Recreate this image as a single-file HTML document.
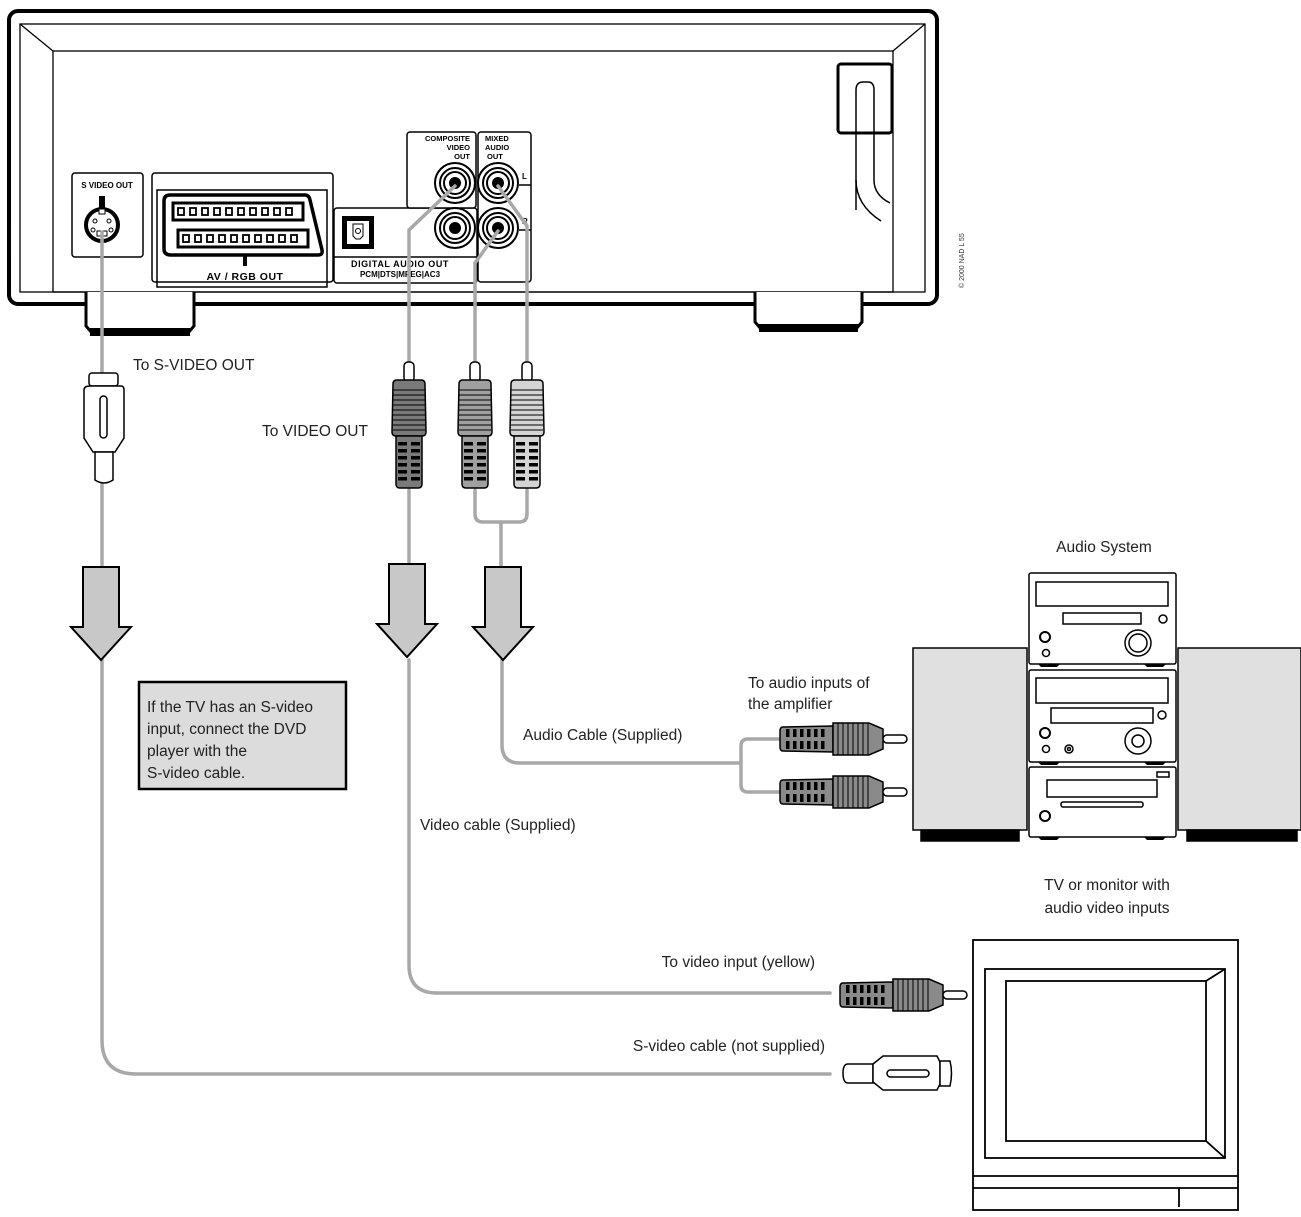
<!DOCTYPE html>
<html><head><meta charset="utf-8"><style>
html,body{margin:0;padding:0;background:#fff}
svg{display:block}
.t{font-family:"Liberation Sans",sans-serif;font-size:15.5px;fill:#222}
.b{font-family:"Liberation Sans",sans-serif;font-weight:bold;fill:#000}
</style></head><body>
<svg width="1301" height="1217" viewBox="0 0 1301 1217" xmlns="http://www.w3.org/2000/svg">
<defs>
<g id="vplug">
 <rect x="-5" y="0" width="10" height="20" rx="4" fill="#fff" stroke="#000" stroke-width="1.5"/>
 <path d="M-16,22 Q-16,18 -12,18 L12,18 Q16,18 16,22 L17,70 Q17,74 13,74 L-13,74 Q-17,74 -17,70 Z" stroke="#000" stroke-width="1.5"/>
 <g stroke="#000" stroke-width="1">
  <line x1="-16" y1="28" x2="16" y2="28"/><line x1="-16" y1="33" x2="16" y2="33"/><line x1="-16" y1="38" x2="16" y2="38"/>
  <line x1="-16" y1="43" x2="16" y2="43"/><line x1="-16" y1="48" x2="16" y2="48"/><line x1="-16" y1="53" x2="16" y2="53"/>
  <line x1="-16" y1="58" x2="16" y2="58"/><line x1="-16" y1="63" x2="16" y2="63"/><line x1="-16" y1="68" x2="16" y2="68"/>
 </g>
 <path d="M-13,74 L13,74 L13,122 Q13,126 9,126 L-9,126 Q-13,126 -13,122 Z" stroke="#000" stroke-width="1.5"/>
 <g fill="#000">
  <rect x="-11" y="80" width="9" height="3.5"/><rect x="2" y="80" width="9" height="3.5"/>
  <rect x="-11" y="87" width="9" height="3.5"/><rect x="2" y="87" width="9" height="3.5"/>
  <rect x="-11" y="94" width="9" height="3.5"/><rect x="2" y="94" width="9" height="3.5"/>
  <rect x="-11" y="101" width="9" height="3.5"/><rect x="2" y="101" width="9" height="3.5"/>
  <rect x="-11" y="108" width="9" height="3.5"/><rect x="2" y="108" width="9" height="3.5"/>
  <rect x="-11" y="115" width="9" height="3.5"/><rect x="2" y="115" width="9" height="3.5"/>
 </g>
</g>
<g id="hplug">
 <path d="M0,-12 L50,-13 L50,13 L0,12 Q-3,12 -3,8 L-3,-8 Q-3,-12 0,-12 Z" fill="#8a8a8a" stroke="#000" stroke-width="1.5"/>
 <g fill="#000">
  <rect x="3" y="-10" width="3.5" height="8"/><rect x="10" y="-10" width="3.5" height="8"/><rect x="17" y="-10" width="3.5" height="8"/><rect x="24" y="-10" width="3.5" height="8"/><rect x="31" y="-10" width="3.5" height="8"/><rect x="38" y="-10" width="3.5" height="8"/>
  <rect x="3" y="2" width="3.5" height="8"/><rect x="10" y="2" width="3.5" height="8"/><rect x="17" y="2" width="3.5" height="8"/><rect x="24" y="2" width="3.5" height="8"/><rect x="31" y="2" width="3.5" height="8"/><rect x="38" y="2" width="3.5" height="8"/>
 </g>
 <path d="M50,-16 L86,-16 L100,-10 L100,10 L86,16 L50,16 Z" fill="#8a8a8a" stroke="#000" stroke-width="1.5"/>
 <g stroke="#000" stroke-width="1">
  <line x1="55" y1="-16" x2="55" y2="16"/><line x1="60" y1="-16" x2="60" y2="16"/><line x1="65" y1="-16" x2="65" y2="16"/><line x1="70" y1="-16" x2="70" y2="16"/><line x1="75" y1="-16" x2="75" y2="16"/><line x1="80" y1="-16" x2="80" y2="16"/><line x1="85" y1="-16" x2="85" y2="16"/>
 </g>
 <rect x="100" y="-4" width="24" height="8" rx="4" fill="#fff" stroke="#000" stroke-width="1.5"/>
</g>
<g id="arrow">
 <path d="M-18,0 L18,0 L18,60 L30,60 L0,93 L-30,60 L-18,60 Z" fill="#c8c8c8" stroke="#000" stroke-width="2"/>
</g>
<g id="jack">
 <circle r="20" fill="#fff" stroke="#000" stroke-width="2"/>
 <circle r="15" fill="#fff" stroke="#000" stroke-width="2"/>
 <circle r="11" fill="#fff" stroke="#000" stroke-width="2"/>
 <circle r="6" fill="#000"/>
</g>
</defs>

<!-- DVD player -->
<rect x="9" y="11" width="928" height="293" rx="9" fill="#fff" stroke="#000" stroke-width="4"/>
<rect x="20" y="24" width="905" height="268" fill="none" stroke="#000" stroke-width="1.3"/>
<rect x="53" y="51" width="840" height="241" fill="none" stroke="#000" stroke-width="1.3"/>
<line x1="20" y1="24" x2="53" y2="51" stroke="#000" stroke-width="1.3"/>
<line x1="925" y1="24" x2="893" y2="51" stroke="#000" stroke-width="1.3"/>
<!-- feet -->
<path d="M86,292 L86,326 L92,333 L188,333 L194,326 L194,292" fill="#fff" stroke="#000" stroke-width="3"/>
<rect x="90" y="328" width="100" height="8" fill="#000"/>
<path d="M755,292 L755,322 L761,329 L856,329 L862,322 L862,292" fill="#fff" stroke="#000" stroke-width="3"/>
<rect x="759" y="324" width="99" height="8" fill="#000"/>
<!-- power -->
<rect x="838" y="64" width="54" height="69" rx="3" fill="#fff" stroke="#000" stroke-width="3"/>
<path d="M856,210 L856,90 Q856,82 863,82 L868,82 Q874,82 874,90 L874,180 Q874,195 890,203" fill="none" stroke="#000" stroke-width="1.5"/>
<path d="M856,180 Q856,205 881,221" fill="none" stroke="#000" stroke-width="1.5"/>
<text class="b" x="0" y="0" transform="translate(964,288) rotate(-90)" style="font-weight:normal;font-size:7px;fill:#333">© 2000 NAD L 55</text>

<!-- S video -->
<rect x="72" y="173" width="71" height="84" rx="3" fill="#fff" stroke="#000" stroke-width="1.5"/>
<text class="b" x="107" y="188" font-size="8" text-anchor="middle">S VIDEO OUT</text>
<rect x="99" y="196" width="6" height="12" fill="#000"/>
<circle cx="102" cy="225" r="16" fill="#fff" stroke="#000" stroke-width="4"/>
<rect x="99" y="209" width="6" height="5" fill="#fff" stroke="#000" stroke-width="1"/>
<circle cx="95" cy="221" r="2" fill="none" stroke="#000"/><circle cx="109" cy="221" r="2" fill="none" stroke="#000"/>
<circle cx="93" cy="230" r="2" fill="none" stroke="#000"/><circle cx="111" cy="230" r="2" fill="none" stroke="#000"/>
<rect x="97" y="231" width="10" height="5" fill="none" stroke="#000"/>

<!-- scart -->
<rect x="152" y="173" width="181" height="109" rx="3" fill="#fff" stroke="#000" stroke-width="1.5"/>
<rect x="157" y="190" width="170" height="97" fill="none" stroke="#000" stroke-width="1.5"/>
<path d="M170,195 L305,195 Q309,195 310,200 L322,250 Q323,255 318,255 L171,255 Q164,255 164,249 L164,201 Q164,195 170,195 Z" fill="#fff" stroke="#000" stroke-width="3.5"/>
<rect x="173" y="203" width="130" height="17" fill="#fff" stroke="#000" stroke-width="3"/>
<rect x="178" y="230" width="130" height="17" fill="#fff" stroke="#000" stroke-width="3"/>
<g fill="none" stroke="#000" stroke-width="1.8">
<rect x="178" y="208" width="6" height="7"/><rect x="190" y="208" width="6" height="7"/><rect x="202" y="208" width="6" height="7"/><rect x="214" y="208" width="6" height="7"/><rect x="226" y="208" width="6" height="7"/><rect x="238" y="208" width="6" height="7"/><rect x="250" y="208" width="6" height="7"/><rect x="262" y="208" width="6" height="7"/><rect x="274" y="208" width="6" height="7"/><rect x="286" y="208" width="6" height="7"/>
<rect x="183" y="235" width="6" height="7"/><rect x="195" y="235" width="6" height="7"/><rect x="207" y="235" width="6" height="7"/><rect x="219" y="235" width="6" height="7"/><rect x="231" y="235" width="6" height="7"/><rect x="243" y="235" width="6" height="7"/><rect x="255" y="235" width="6" height="7"/><rect x="267" y="235" width="6" height="7"/><rect x="279" y="235" width="6" height="7"/><rect x="291" y="235" width="6" height="7"/>
</g>
<rect x="243" y="255" width="4" height="11" fill="#000"/>
<text class="b" x="245" y="280" font-size="10.5" text-anchor="middle" letter-spacing="0.5">AV / RGB OUT</text>

<!-- digital -->
<rect x="334" y="208" width="143" height="75" rx="3" fill="#fff" stroke="#000" stroke-width="1.5"/>
<line x1="334" y1="257" x2="477" y2="257" stroke="#000" stroke-width="1.5"/>
<rect x="342" y="216" width="32" height="33" fill="#000"/>
<rect x="347" y="221" width="22" height="23" fill="#fff"/>
<path d="M353,224 L363,224 L363,236 L360,239 L356,239 L353,236 Z" fill="none" stroke="#000" stroke-width="1"/>
<circle cx="358" cy="231" r="2.5" fill="none" stroke="#000"/>
<text class="b" x="400" y="267" font-size="9" text-anchor="middle" letter-spacing="0.6">DIGITAL AUDIO OUT</text>
<text class="b" x="400" y="277" font-size="8" text-anchor="middle">PCM|DTS|MPEG|AC3</text>
<!-- composite -->
<rect x="407" y="132" width="69" height="76" rx="3" fill="#fff" stroke="#000" stroke-width="1.5"/>
<text class="b" x="470" y="141" font-size="7.5" text-anchor="end">COMPOSITE</text>
<text class="b" x="470" y="150" font-size="7.5" text-anchor="end">VIDEO</text>
<text class="b" x="470" y="159" font-size="7.5" text-anchor="end">OUT</text>
<use href="#jack" x="455" y="183"/>
<use href="#jack" x="455" y="228"/>
<!-- mixed -->
<rect x="478" y="132" width="53" height="150" rx="3" fill="#fff" stroke="#000" stroke-width="1.5"/>
<text class="b" x="485" y="141" font-size="7.5">MIXED</text>
<text class="b" x="485" y="150" font-size="7.5">AUDIO</text>
<text class="b" x="487" y="159" font-size="7.5">OUT</text>
<text class="b" x="522" y="179" font-size="8">L</text>
<text class="b" x="522" y="224" font-size="8">R</text>
<line x1="519" y1="185" x2="531" y2="185" stroke="#000" stroke-width="1.5"/>
<line x1="519" y1="230" x2="531" y2="230" stroke="#000" stroke-width="1.5"/>
<use href="#jack" x="498" y="183"/>
<use href="#jack" x="498" y="228"/>

<!-- cables -->
<g fill="none" stroke="#a8a8a8" stroke-width="3.5" stroke-linecap="round">
 <line x1="102" y1="232" x2="102" y2="372"/>
 <polyline points="455,186 409,230 409,362"/>
 <polyline points="498,231 475,263 475,362"/>
 <polyline points="498,186 527,226 527,362"/>
 <line x1="102" y1="485" x2="102" y2="567"/>
 <line x1="409" y1="490" x2="409" y2="563"/>
 <path d="M475,490 L475,514 Q475,522 483,522 L519,522 Q527,522 527,514 L527,490"/>
 <line x1="501" y1="522" x2="501" y2="567"/>
 <path d="M102,660 L102,1040 Q102,1074 136,1074 L830,1074"/>
 <path d="M409,660 L409,965 Q409,993 437,993 L830,993"/>
 <path d="M502,660 L502,745 Q502,763 520,763 L740,763"/>
 <path d="M780,739 L748,739 Q741,739 741,746 L741,785 Q741,792 748,792 L780,792"/>
</g>

<!-- S plug vertical -->
<g fill="#fff" stroke="#000" stroke-width="1.5">
 <rect x="89" y="373" width="29" height="13" rx="3"/>
 <path d="M88,386 L119,386 Q122,386 122,390 L122,438 L113,452 L91,452 L82,438 L82,390 Q82,386 88,386 Z" transform="translate(2,0)"/>
 <path d="M95,452 L113,452 L113,480 Q104,486 95,480 Z"/>
 <rect x="100" y="396" width="7" height="42" rx="3.5"/>
</g>
<!-- RCA vertical -->
<use href="#vplug" x="409" y="362" fill="#7a7a7a"/>
<use href="#vplug" x="475" y="362" fill="#a0a0a0"/>
<use href="#vplug" x="527" y="362" fill="#d4d4d4"/>

<!-- arrows -->
<use href="#arrow" x="101" y="567"/>
<use href="#arrow" x="407" y="564"/>
<use href="#arrow" x="503" y="567"/>

<!-- note box -->
<rect x="139" y="682" width="207" height="107" fill="#dcdcdc" stroke="#000" stroke-width="2.5"/>
<text class="t" x="147" y="712">If the TV has an S-video</text>
<text class="t" x="147" y="734">input, connect the DVD</text>
<text class="t" x="147" y="756">player with the</text>
<text class="t" x="147" y="778">S-video cable.</text>

<!-- labels -->
<text class="t" x="133" y="370">To S-VIDEO OUT</text>
<text class="t" x="262" y="436">To VIDEO OUT</text>
<text class="t" x="523" y="740">Audio Cable (Supplied)</text>
<text class="t" x="420" y="830">Video cable (Supplied)</text>
<text class="t" x="748" y="688">To audio inputs of</text>
<text class="t" x="748" y="709">the amplifier</text>
<text class="t" x="1104" y="552" text-anchor="middle">Audio System</text>
<text class="t" x="1107" y="890" text-anchor="middle">TV or monitor with</text>
<text class="t" x="1107" y="913" text-anchor="middle">audio video inputs</text>
<text class="t" x="815" y="967" text-anchor="end">To video input (yellow)</text>
<text class="t" x="825" y="1051" text-anchor="end">S-video cable (not supplied)</text>

<!-- horizontal plugs -->
<use href="#hplug" x="783" y="739"/>
<use href="#hplug" x="783" y="792"/>
<use href="#hplug" x="843" y="995"/>
<!-- S plug horizontal -->
<g fill="#fff" stroke="#000" stroke-width="1.5">
 <path d="M873,1064 L848,1064 Q843,1064 843,1073 Q843,1083 848,1083 L873,1083 Z"/>
 <path d="M873,1064 L883,1056 L937,1056 L940,1062 L940,1084 L937,1090 L883,1090 L873,1082 Z"/>
 <path d="M940,1061 L950,1061 Q953,1073 950,1086 L940,1086 Z"/>
 <rect x="887" y="1070" width="42" height="7" rx="3.5"/>
</g>

<!-- audio system -->
<g stroke="#000" stroke-width="1.5">
 <rect x="913" y="648" width="114" height="182" fill="#e0e0e0"/>
 <rect x="921" y="830" width="98" height="11" fill="#000"/>
 <rect x="1178" y="648" width="123" height="182" fill="#e0e0e0"/>
 <rect x="1187" y="830" width="110" height="11" fill="#000"/>
</g>
<g fill="#fff" stroke="#000" stroke-width="1.5">
 <rect x="1029" y="573" width="147" height="91" rx="2"/>
 <rect x="1036" y="582" width="132" height="24"/>
 <rect x="1063" y="613" width="78" height="11"/>
 <circle cx="1163" cy="619" r="4"/>
 <circle cx="1138" cy="643" r="13"/><circle cx="1138" cy="643" r="9"/>
 <circle cx="1045" cy="637" r="5" stroke-width="2"/><circle cx="1046" cy="653" r="3.5"/>
 <rect x="1029" y="670" width="147" height="92" rx="2"/>
 <rect x="1036" y="678" width="132" height="25"/>
 <rect x="1051" y="708" width="102" height="15"/>
 <circle cx="1162" cy="715" r="4"/>
 <circle cx="1138" cy="741" r="13"/><circle cx="1138" cy="741" r="6"/>
 <circle cx="1045" cy="733" r="5" stroke-width="2"/><circle cx="1046" cy="749" r="3.5"/>
 <circle cx="1069" cy="749" r="4"/><circle cx="1069" cy="749" r="1.5"/>
 <rect x="1029" y="767" width="147" height="70" rx="2"/>
 <rect x="1157" y="772" width="12" height="5"/>
 <rect x="1047" y="780" width="110" height="17"/>
 <rect x="1061" y="802" width="82" height="5" rx="2"/>
 <circle cx="1045" cy="816" r="5" stroke-width="2"/>
</g>
<g fill="#000">
 <path d="M1038,664 L1060,664 L1057,667 L1041,667 Z"/><path d="M1144,664 L1166,664 L1163,667 L1147,667 Z"/>
 <path d="M1038,762 L1060,762 L1057,765 L1041,765 Z"/><path d="M1144,762 L1166,762 L1163,765 L1147,765 Z"/>
 <path d="M1038,837 L1060,837 L1057,840 L1041,840 Z"/><path d="M1144,837 L1166,837 L1163,840 L1147,840 Z"/>
</g>

<!-- TV -->
<g fill="none" stroke="#000" stroke-width="1.8">
 <rect x="973" y="940" width="265" height="270" fill="#fff"/>
 <rect x="985" y="969" width="240" height="189"/>
 <rect x="1006" y="981" width="200" height="160"/>
 <line x1="1206" y1="981" x2="1225" y2="969"/>
 <line x1="1206" y1="1141" x2="1225" y2="1158"/>
 <line x1="973" y1="1176" x2="1238" y2="1176"/>
 <line x1="973" y1="1188" x2="1238" y2="1188"/>
 <line x1="1179" y1="1188" x2="1179" y2="1207"/>
</g>
</svg>
</body></html>
